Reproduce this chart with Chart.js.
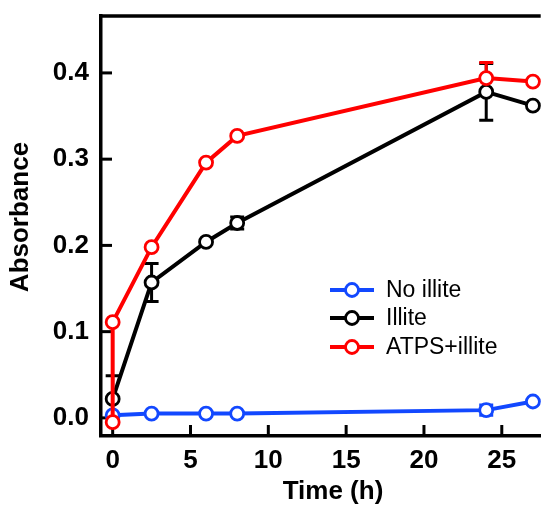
<!DOCTYPE html>
<html>
<head>
<meta charset="utf-8">
<script src="https://cdn.jsdelivr.net/npm/chart.js@4.4.1/dist/chart.umd.min.js"></script>
<style>
  html, body { margin: 0; padding: 0; background: #fff; }
  #wrap { position: relative; width: 550px; height: 511px; }
</style>
</head>
<body>
<div id="wrap"><canvas id="chartCanvas"></canvas></div>
<script>
// values
const times = [0, 2.5, 6, 8, 24, 27];
const noIllite = [0.003, 0.005, 0.005, 0.005, 0.009, 0.019];
const noIlliteErr = [0, 0, 0, 0, 0.006, 0];
const illite = [0.022, 0.157, 0.204, 0.226, 0.378, 0.362];
const illiteErr = [0.027, 0.022, 0, 0.007, 0.033, 0];
const atpsTimes = [0, 0, 2.5, 6, 8, 24, 27];
const atpsIllite = [-0.005, 0.111, 0.198, 0.296, 0.327, 0.394, 0.390];
const atpsErr = [0, 0, 0, 0, 0, 0.018, 0];

const xTicks = [0, 5, 10, 15, 20, 25];
const yTicks = [0.0, 0.1, 0.2, 0.3, 0.4];

const BLUE = '#1248ff';
const RED = '#ff0000';
const BLACK = '#000000';
const FONT = '"Liberation Sans", Arial, sans-serif';

function toPoints(xs, ys, errs) {
    return xs.map((x, i) => ({ x: x, y: ys[i], err: errs[i] }));
}

function series(label, color, data, order) {
    return {
        label: label,
        data: data,
        borderColor: color,
        backgroundColor: '#fff',
        borderWidth: 4,
        pointRadius: 6.5,
        pointBorderWidth: 2.8,
        pointBackgroundColor: '#fff',
        pointBorderColor: color,
        tension: 0,
        clip: false,
        order: order
    };
}

// error bars, inward ticks, top frame line, axis titles and legend
const extras = {
    id: 'extras',
    beforeDatasetsDraw(chart) {
        const ctx = chart.ctx;
        const xs = chart.scales.x, ys = chart.scales.y;
        const area = chart.chartArea;
        ctx.save();
        ctx.strokeStyle = '#000';
        ctx.lineWidth = 3.5;
        ctx.lineCap = 'butt';
        ctx.beginPath();
        ctx.moveTo(area.left - 2, area.top);
        ctx.lineTo(area.right, area.top);
        ctx.stroke();
        ctx.lineWidth = 3;
        xTicks.forEach(v => {
            const px = xs.getPixelForValue(v);
            ctx.beginPath();
            ctx.moveTo(px, area.bottom);
            ctx.lineTo(px, area.bottom - 11);
            ctx.stroke();
        });
        yTicks.forEach(v => {
            const py = ys.getPixelForValue(v);
            ctx.beginPath();
            ctx.moveTo(area.left, py);
            ctx.lineTo(area.left + 11, py);
            ctx.stroke();
        });
        chart.data.datasets.forEach(ds => {
            ctx.strokeStyle = ds.borderColor;
            ctx.lineWidth = 3;
            ds.data.forEach(p => {
                if (!p.err) return;
                const px = xs.getPixelForValue(p.x);
                const top = ys.getPixelForValue(p.y + p.err);
                const bot = ys.getPixelForValue(p.y - p.err);
                ctx.beginPath();
                ctx.moveTo(px, top);
                ctx.lineTo(px, bot);
                ctx.moveTo(px - 7, top);
                ctx.lineTo(px + 7, top);
                ctx.moveTo(px - 7, bot);
                ctx.lineTo(px + 7, bot);
                ctx.stroke();
            });
        });
        ctx.restore();
    },
    afterDraw(chart) {
        const ctx = chart.ctx;
        ctx.save();
        ctx.font = 'bold 26px ' + FONT;
        ctx.fillStyle = '#000';
        ctx.textAlign = 'center';
        ctx.textBaseline = 'middle';
        ctx.fillText('Time (h)', 333, 492);
        ctx.translate(21, 217);
        ctx.rotate(-Math.PI / 2);
        ctx.fillText('Absorbance', 0, 0);
        ctx.restore();

        ctx.save();
        const rows = [290, 318, 347];
        chart.data.datasets.forEach((ds, i) => {
            const y = rows[i];
            ctx.strokeStyle = ds.borderColor;
            ctx.lineWidth = 4;
            ctx.beginPath();
            ctx.moveTo(330, y);
            ctx.lineTo(374, y);
            ctx.stroke();
            ctx.beginPath();
            ctx.arc(352, y, 6.5, 0, Math.PI * 2);
            ctx.fillStyle = '#fff';
            ctx.fill();
            ctx.lineWidth = 2.8;
            ctx.stroke();
            ctx.fillStyle = '#000';
            ctx.font = '23px ' + FONT;
            ctx.textBaseline = 'middle';
            ctx.fillText(ds.label, 386, y + 1);
        });
        ctx.restore();
    }
};

const tickFont = { family: FONT, size: 26, weight: 'bold' };

new Chart(document.getElementById('chartCanvas').getContext('2d'), {
    type: 'line',
    data: {
        datasets: [
            series('No illite', BLUE, toPoints(times, noIllite, noIlliteErr), 3),
            series('Illite', BLACK, toPoints(times, illite, illiteErr), 2),
            series('ATPS+illite', RED, toPoints(atpsTimes, atpsIllite, atpsErr), 1)
        ]
    },
    options: {
        responsive: true,
        maintainAspectRatio: false,
        animation: false,
        layout: { padding: { top: 16, right: 0, left: 0, bottom: 0 } },
        plugins: { legend: { display: false }, tooltip: { enabled: false } },
        scales: {
            x: {
                type: 'linear',
                min: -0.75,
                max: 27.5,
                afterBuildTicks: s => { s.ticks = xTicks.map(v => ({ value: v })); },
                afterFit: s => { s.height = 75; s.paddingLeft = 0; s.paddingRight = 0; },
                grid: { display: false, drawTicks: false },
                border: { display: true, color: '#000', width: 3.5 },
                ticks: { color: '#000', font: tickFont, padding: 9, maxRotation: 0 },
                title: { display: false }
            },
            y: {
                min: -0.021,
                max: 0.466,
                afterBuildTicks: s => { s.ticks = yTicks.map(v => ({ value: v })); },
                afterFit: s => { s.width = 101; s.paddingTop = 0; s.paddingBottom = 0; },
                grid: { display: false, drawTicks: false },
                border: { display: true, color: '#000', width: 3.5 },
                ticks: { color: '#000', font: tickFont, padding: 12, callback: v => v.toFixed(1) },
                title: { display: false }
            }
        }
    },
    plugins: [extras]
});
</script>
</body>
</html>
